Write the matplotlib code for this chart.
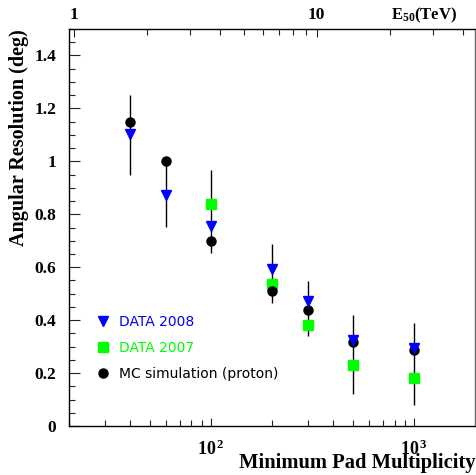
import matplotlib
matplotlib.use('Agg')
import matplotlib.pyplot as plt
from matplotlib.ticker import FixedLocator, LogLocator, NullFormatter, MultipleLocator, FixedFormatter

plt.rcParams['font.family'] = 'Liberation Serif'
plt.rcParams['font.weight'] = 'bold'
plt.rcParams['mathtext.fontset'] = 'custom'
plt.rcParams['mathtext.rm'] = 'Liberation Serif:bold'
plt.rcParams['mathtext.it'] = 'Liberation Serif:bold:italic'
plt.rcParams['mathtext.bf'] = 'Liberation Serif:bold'

# minimum pad multiplicity
mult = [40, 60, 100, 200, 300, 500, 1000]
mc_res = [1.148, 1.0, 0.70, 0.51, 0.44, 0.318, 0.289]
data08_res = [1.104, 0.873, 0.755, 0.595, 0.472, 0.325, 0.294]
mult07 = [100, 200, 300, 500, 1000]
data07_res = [0.84, 0.538, 0.381, 0.23, 0.18]
err_lo = [0.95, 0.751, 0.652, 0.463, 0.34, 0.12, 0.079]
err_hi = [1.249, 1.0, 0.969, 0.689, 0.548, 0.419, 0.39]

fig = plt.figure(figsize=(4.77, 4.75), dpi=100)
ax = fig.add_axes([69/477, 1-426/475, 406.5/477, 397/475])

ax.vlines(mult, err_lo, err_hi, color='black', lw=1, zorder=1)
ax.plot(mult07, data07_res, ls='', marker='s', ms=6.5, color='#00ff00', mec='#00ff00', label='DATA 2007', zorder=2)
ax.plot(mult, mc_res, ls='', marker='o', ms=6.5, color='black', label='MC simulation (proton)', zorder=3)
ax.plot(mult, data08_res, ls='', marker='v', ms=6.5, color='blue', label='DATA 2008', zorder=4)

ax.set_xscale('log')
ax.set_xlim(20, 2000)
ax.set_ylim(0, 1.5)

ax.xaxis.set_major_locator(FixedLocator([100, 1000]))
ax.xaxis.set_major_formatter(FixedFormatter([r'$\mathrm{10^{\,2}}$', r'$\mathrm{10^{\,3}}$']))
ax.xaxis.set_minor_locator(LogLocator(base=10, subs=range(2, 10)))
ax.xaxis.set_minor_formatter(NullFormatter())
ax.yaxis.set_minor_locator(MultipleLocator(0.05))
ax.set_yticks([0, 0.2, 0.4, 0.6, 0.8, 1.0, 1.2, 1.4])
ax.set_yticklabels(['0', '0.2', '0.4', '0.6', '0.8', '1', '1.2', '1.4'])

ax.tick_params(axis='both', which='both', direction='in', top=False, right=False, width=0.8, color='#222222')
ax.tick_params(axis='y', which='major', length=8, pad=9, labelsize=12.5)
ax.tick_params(axis='y', which='minor', length=4)
ax.tick_params(axis='x', which='major', length=6, pad=10, labelsize=13)
ax.tick_params(axis='x', which='minor', length=4)
for s in ax.spines.values():
    s.set_linewidth(1)
ax.spines['right'].set_color('#666666')

# energy axis on top
ax2 = ax.twiny()
ax2.set_xscale('log')
ax2.set_xlim(0.954, 45.1)
ax2.xaxis.set_major_locator(FixedLocator([1, 10]))
ax2.xaxis.set_major_formatter(FixedFormatter(['1', '10']))
ax2.xaxis.set_minor_locator(LogLocator(base=10, subs=range(2, 10)))
ax2.xaxis.set_minor_formatter(NullFormatter())
ax2.tick_params(axis='x', which='both', direction='in', width=0.8, color='#222222')
ax2.tick_params(axis='x', which='major', length=6, pad=4, labelsize=12.5)
ax2.tick_params(axis='x', which='minor', length=4)
for s in ax2.spines.values():
    s.set_visible(False)

handles, labels = ax.get_legend_handles_labels()
order = [2, 0, 1]
ax.legend([handles[i] for i in order], [labels[i] for i in order],
          loc='upper left', bbox_to_anchor=(0.066, 0.280), frameon=False,
          borderpad=0, borderaxespad=0, handlelength=1.0, handletextpad=0.65,
          labelspacing=0.88, labelcolor='linecolor',
          prop={'family': 'DejaVu Sans', 'weight': 'normal', 'size': 10})

fig.text(19/477, 1-29/475, 'Angular Resolution (deg)', rotation=90, ha='center', va='top', fontsize=14.5)
fig.text(476/477, 1-468/475, 'Minimum Pad Multiplicity', ha='right', va='baseline', fontsize=14.8)
fig.text(457/477, 1-19/475, r'E$_{\mathrm{50}}$(TeV)', ha='right', va='baseline', fontsize=12)

fig.savefig('out.png', dpi=100)
